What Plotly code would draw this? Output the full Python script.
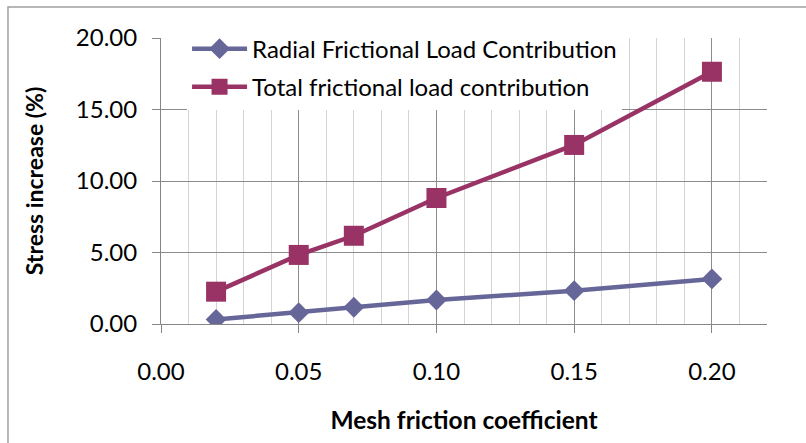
import plotly.graph_objects as go

friction = [0.02, 0.05, 0.07, 0.10, 0.15, 0.20]
radial = [0.32, 0.79, 1.17, 1.68, 2.33, 3.15]
total = [2.26, 4.83, 6.17, 8.81, 12.52, 17.64]

radial_name = "Radial Frictional Load Contribution"
total_name = "Total frictional load contribution"
x_title = "Mesh friction coefficient"
y_title = "Stress increase (%)"

FONT = "Lato"
fig = go.Figure()
fig.add_trace(go.Scatter(x=friction, y=radial, name=radial_name, mode="lines+markers",
                         legendgroup="a",
                         line=dict(color="#666699", width=4.5),
                         marker=dict(symbol="diamond", size=16, color="#666699")))
fig.add_trace(go.Scatter(x=friction, y=total, name=total_name, mode="lines+markers",
                         legendgroup="b",
                         line=dict(color="#993366", width=4.5),
                         marker=dict(symbol="square", size=20, color="#993366")))

fig.update_layout(
    width=806, height=443,
    margin=dict(l=161, r=39, t=38, b=119),
    paper_bgcolor="white", plot_bgcolor="white",
    font=dict(family=FONT, size=24, color="black"),
    showlegend=True,
    legend=dict(x=0.043, y=1.04, xanchor="left", yanchor="top", bgcolor="white",
                font=dict(family=FONT, size=24), tracegroupgap=4, itemwidth=55,
                borderwidth=0),
    xaxis=dict(range=[0, 0.22], dtick=0.05, tick0=0, tickformat=".2f",
               showline=True, linecolor="#868686", linewidth=1,
               showgrid=True, gridcolor="#8c8c8c", gridwidth=1,
               ticks="outside", ticklen=8, tickcolor="#868686",
               minor=dict(dtick=0.01, showgrid=True, gridcolor="#d4d4d4", gridwidth=1, ticks=""),
               zeroline=False, ticklabelstandoff=18, automargin=False,
               title=dict(text=x_title, font=dict(size=24.5, weight="bold"), standoff=28)),
    yaxis=dict(range=[0, 20], dtick=5, tickformat=".2f",
               showline=True, linecolor="#868686", linewidth=1,
               showgrid=True, gridcolor="#8c8c8c", gridwidth=1,
               ticks="outside", ticklen=8, tickcolor="#868686",
               zeroline=False, ticklabelstandoff=10, automargin=False,
               title=dict(text=y_title, font=dict(size=23, weight="bold"), standoff=25)),
    shapes=[dict(type="rect", xref="paper", yref="paper", x0=-0.2525, x1=1.2, y0=-0.5, y1=1.108,
                 line=dict(color="#a0a0a0", width=1.5), layer="below")],
)
fig.write_html("out.html", config={"displayModeBar": False},
               post_script="document.body.style.margin='0';")
